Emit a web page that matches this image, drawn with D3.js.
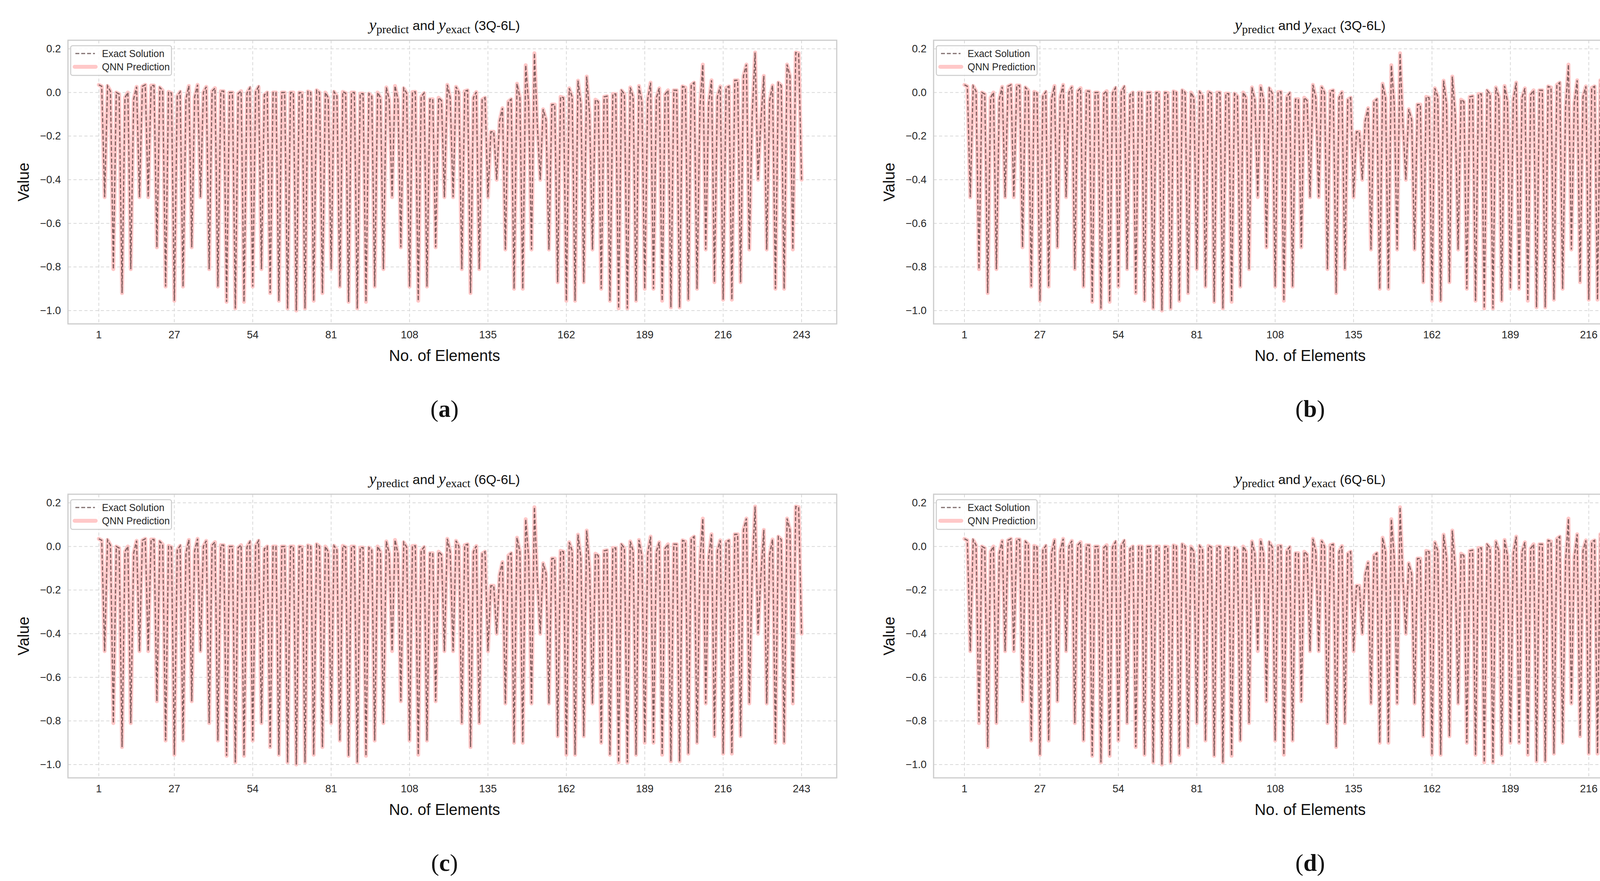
<!DOCTYPE html>
<html><head><meta charset="utf-8">
<script src="https://cdn.jsdelivr.net/npm/d3@7"></script>
<style>html,body{margin:0;padding:0;background:#fff;overflow:hidden}svg{display:block}</style>
</head><body><svg id="c" width="4404" height="2255"></svg>
<script>
// Pairs of "top" values at elements 3k+1, 3k+2 and the dip at element 3k+3
const tops = [
[.035,.028],[.03,.006],[0,-.007],[-.024,0],[-.03,.026],[.028,.035],[.032,.032],[.023,.009],[.003,-.003],
[-.017,.003],[-.03,.03],[-.02,.035],[0,.026],[.006,.02],[.006,.006],[0,0],[-.005,.006],[-.003,.021],
[.003,.026],[-.011,0],[0,0],[0,0],[0,0],[0,-.002],[.005,0],[.01,0],[0,-.024],
[.003,-.016],[.003,-.003],[0,0],[-.005,-.005],[-.005,-.017],[0,-.024],[.023,-.033],[.03,-.033],[.019,-.003],
[.002,.003],[-.02,-.003],[-.031,-.031],[-.024,-.037],[.035,-.024],[.026,0],[.006,.01],[-.024,.002],[-.033,-.024],
[-.18,-.18],[-.13,-.072],[-.042,-.031],[.04,-.024],[.125,-.05],[.18,-.15],[-.077,-.124],[-.055,-.055],[-.02,-.024],
[.019,-.02],[.054,-.05],[.073,-.1],[-.033,-.042],[-.02,-.017],[-.007,-.007],[.009,-.007],[.023,-.02],[.03,-.042],
[-.033,.045],[-.024,.019],[-.009,.01],[.01,.01],[.028,.023],[.035,.045],[-.068,.128],[-.05,.056],[-.02,.028],
[.021,.028],[.056,.056],[.076,.128],[-.1,.183],[-.13,.076],[-.037,.032],[.045,.032],[.128,.076],[.183,.18]];
const dips = [-.48,-.81,-.92,-.81,-.48,-.48,-.71,-.89,-.955,-.89,-.71,-.48,-.81,-.89,-.96,-.99,-.96,-.89,
-.81,-.92,-.955,-.99,-1.0,-.99,-.955,-.92,-.81,-.89,-.96,-.99,-.96,-.89,-.81,-.48,-.71,-.89,
-.955,-.89,-.71,-.48,-.48,-.81,-.92,-.81,-.48,-.40,-.72,-.90,-.90,-.72,-.40,-.72,-.87,-.955,
-.955,-.87,-.72,-.90,-.955,-.99,-.99,-.955,-.90,-.90,-.955,-.985,-.985,-.95,-.90,-.72,-.87,
-.95,-.95,-.87,-.72,-.40,-.72,-.90,-.90,-.72,-.40];
const exact = [];
tops.forEach((t,k)=>{exact.push(t[0],t[1],dips[k]);});
const predict = exact.slice();
const xTicks = [1,27,54,81,108,135,162,189,216,243];
const yTicks = [0.2,0.0,-0.2,-0.4,-0.6,-0.8,-1.0];
const panels = [
 {tag:"a",cfg:"(3Q-6L)",left:174,top:103},
 {tag:"b",cfg:"(3Q-6L)",left:2390,top:103},
 {tag:"c",cfg:"(6Q-6L)",left:174,top:1265},
 {tag:"d",cfg:"(6Q-6L)",left:2390,top:1265}];
const W=1968,H=726;
const svg=d3.select("#c");
const sans="Liberation Sans, Arial, sans-serif", serif="Liberation Serif, DejaVu Serif, serif";
panels.forEach(p=>{
  const g=svg.append("g").attr("transform",`translate(${p.left},${p.top})`);
  const x=d3.scaleLinear().domain([1,243]).range([79,1878]);
  const y=d3.scaleLinear().domain([0.2,-1.0]).range([22,692]);
  g.selectAll(".gx").data(xTicks).join("line").attr("x1",d=>x(d)).attr("x2",d=>x(d)).attr("y1",0).attr("y2",H)
    .attr("stroke","#d9d9d9").attr("stroke-width",2).attr("stroke-dasharray","8,6");
  g.selectAll(".gy").data(yTicks).join("line").attr("y1",d=>y(d)).attr("y2",d=>y(d)).attr("x1",0).attr("x2",W)
    .attr("stroke","#d9d9d9").attr("stroke-width",2).attr("stroke-dasharray","8,6");
  const line=d3.line().x((d,i)=>x(i+1)).y(d=>y(d));
  g.append("path").datum(predict).attr("d",line).attr("fill","none").attr("stroke","#ffc8c8")
    .attr("stroke-width",10).attr("stroke-linejoin","round").attr("stroke-linecap","round");
  g.append("path").datum(exact).attr("d",line).attr("fill","none").attr("stroke","#4a3030")
    .attr("stroke-opacity",0.7).attr("stroke-width",3).attr("stroke-dasharray","10,5");
  g.append("rect").attr("width",W).attr("height",H).attr("fill","none").attr("stroke","#cccccc").attr("stroke-width",3);
  g.selectAll(".tx").data(xTicks).join("text").attr("x",d=>x(d)).attr("y",H+37).attr("text-anchor","middle")
    .attr("font-family",sans).attr("font-size",27).attr("fill","#262626").text(d=>d);
  g.selectAll(".ty").data(yTicks).join("text").attr("x",-18).attr("y",d=>y(d)+9).attr("text-anchor","end")
    .attr("font-family",sans).attr("font-size",27).attr("fill","#262626").text(d=>d3.format(".1f")(d).replace("-","\u2212"));
  g.append("text").attr("x",W/2-20).attr("y",H+95).attr("text-anchor","middle").attr("font-family",sans)
    .attr("font-size",40).attr("fill","#111").text("No. of Elements");
  g.append("text").attr("transform",`translate(-100,${H/2}) rotate(-90)`).attr("text-anchor","middle")
    .attr("font-family",sans).attr("font-size",40).attr("fill","#111").text("Value");
  const t=g.append("text").attr("x",W/2-20).attr("y",-26).attr("text-anchor","middle").attr("font-family",serif).attr("font-size",42).attr("fill","#111");
  t.append("tspan").attr("font-style","italic").text("y");
  t.append("tspan").attr("font-size",30).attr("dy",8).text("predict");
  t.append("tspan").attr("dy",-8).attr("font-family",sans).attr("font-size",34).text(" and ");
  t.append("tspan").attr("font-style","italic").text("y");
  t.append("tspan").attr("font-size",30).attr("dy",8).text("exact");
  t.append("tspan").attr("dy",-8).attr("font-family",sans).attr("font-size",34).text(" "+p.cfg);
  const lab=svg.append("text").attr("x",p.left+W/2-20).attr("y",p.top+H+238).attr("text-anchor","middle")
    .attr("font-family",serif).attr("font-size",62).attr("fill","#111");
  lab.append("tspan").text("(");
  lab.append("tspan").attr("font-weight","bold").text(p.tag);
  lab.append("tspan").text(")");
  const lg=g.append("g").attr("transform","translate(7,14)");
  lg.append("rect").attr("width",258).attr("height",76).attr("rx",5).attr("fill","#fff").attr("fill-opacity",0.85)
    .attr("stroke","#cccccc").attr("stroke-width",2.5);
  lg.append("line").attr("x1",12).attr("x2",62).attr("y1",20).attr("y2",20).attr("stroke","#4a3030").attr("stroke-opacity",0.7)
    .attr("stroke-width",3).attr("stroke-dasharray","10,5");
  lg.append("line").attr("x1",10).attr("x2",64).attr("y1",54).attr("y2",54).attr("stroke","#ffc8c8").attr("stroke-width",10).attr("stroke-linecap","round");
  lg.append("text").attr("x",80).attr("y",29).attr("font-family",sans).attr("font-size",25).attr("fill","#262626").text("Exact Solution");
  lg.append("text").attr("x",80).attr("y",63).attr("font-family",sans).attr("font-size",25).attr("fill","#262626").text("QNN Prediction");
});
</script></body></html>
